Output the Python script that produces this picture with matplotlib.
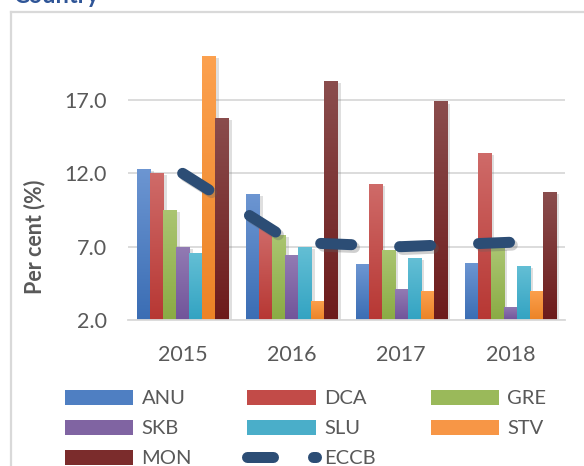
import matplotlib
matplotlib.use("Agg")
import matplotlib.pyplot as plt
import numpy as np
from matplotlib.colors import LinearSegmentedColormap
from matplotlib.lines import Line2D
from matplotlib.patches import Patch
import matplotlib.patheffects as pe

plt.rcParams['font.family'] = ['Lato', 'DejaVu Sans']

years = ['2015', '2016', '2017', '2018']
series_names = ['ANU', 'DCA', 'GRE', 'SKB', 'SLU', 'STV', 'MON']
ANU = [12.3, 10.6, 5.8, 5.9]
DCA = [12.0, 8.3, 11.3, 13.4]
GRE = [9.5, 7.8, 6.8, 6.9]
SKB = [7.0, 6.4, 4.1, 2.9]
SLU = [6.6, 7.0, 6.2, 5.7]
STV = [20.0, 3.3, 4.0, 4.0]
MON = [15.8, 18.3, 16.9, 10.7]
ECCB = [12.0, 7.3, 7.0, 7.3]
yticks = [2.0, 7.0, 12.0, 17.0]

series_values = [ANU, DCA, GRE, SKB, SLU, STV, MON]
top_colors = ['#6d96d2', '#cf6b69', '#aac571', '#927bb3', '#64bfd5', '#fca14f', '#8a4d4d']
bot_colors = ['#3a6db4', '#b73733', '#8aab44', '#71549a', '#32a3c2', '#ec8326', '#6d1b1b']
mid_colors = ['#4f7fc2', '#c24b48', '#9ab95a', '#8064a2', '#4aaec9', '#f79646', '#7b2c2c']
eccb_color = '#2c4d75'

W, H = 584, 466
fig = plt.figure(figsize=(W / 100, H / 100), dpi=100)
ax = fig.add_axes([128 / W, 1 - 320 / H, (565 - 128) / W, (320 - 56) / H])

ymin, ymax = 2.0, 20.0
x = np.arange(len(years))
bw = 0.119
grad = np.linspace(0, 1, 256).reshape(-1, 1)

for i, (vals, tc, bc) in enumerate(zip(series_values, top_colors, bot_colors)):
    cmap = LinearSegmentedColormap.from_list('g%d' % i, [bc, tc])
    pos = x + (i - 3) * bw
    bars = ax.bar(pos, np.array(vals) - ymin, bottom=ymin, width=bw, color=bc,
                  zorder=2, linewidth=0)
    for b, v in zip(bars, vals):
        b.set_path_effects([pe.SimplePatchShadow(offset=(2.5, -1.5), shadow_rgbFace='#808080', alpha=0.25),
                            pe.Normal()])
        x0 = b.get_x()
        im = ax.imshow(grad, cmap=cmap, origin='lower', aspect='auto',
                       extent=(x0, x0 + bw, ymin, v), zorder=2.5,
                       interpolation='bilinear')
        im.set_clip_path(b)

lw_px = 11
lw_pt = lw_px * 72 / 100
ax.plot(x, ECCB, color=eccb_color, lw=lw_pt, ls=(0, (31 / lw_px, 48 / lw_px)),
        dash_capstyle='round', solid_capstyle='round', zorder=4,
        path_effects=[pe.SimpleLineShadow(offset=(2, -2), shadow_color='#606060', alpha=0.3),
                      pe.Normal()])

ax.set_xlim(-0.5, 3.5)
ax.set_ylim(ymin, ymax)
ax.set_yticks(yticks)
ax.set_yticklabels(['%.1f' % t for t in yticks])
ax.set_xticks(x)
ax.set_xticklabels(years)
ax.tick_params(axis='both', length=0, labelsize=15.5, labelcolor='#595959')
ax.tick_params(axis='y', pad=15)
ax.tick_params(axis='x', pad=18)
ax.grid(axis='y', color='#d9d9d9', lw=1.3, zorder=0)
ax.set_axisbelow(True)
for s in ['top', 'right', 'left']:
    ax.spines[s].set_visible(False)
ax.spines['bottom'].set_color('#d9d9d9')
ax.spines['bottom'].set_linewidth(1.3)

fig.text(35 / W, 1 - 237 / H, 'Per cent (%)', rotation=90, ha='center', va='center',
         fontsize=15.5, fontweight='bold', color='#595959')
fig.text(13 / W, 1 - 3 / H, 'Country', ha='left', va='baseline', fontsize=17,
         fontweight='bold', color='#2f5597')

# frame lines (top and left)
fig.add_artist(Line2D([10.5 / W, 1], [1 - 11.5 / H, 1 - 11.5 / H], color='#d9d9d9', lw=1.6,
                      transform=fig.transFigure))
fig.add_artist(Line2D([10.5 / W, 10.5 / W], [0, 1 - 11.5 / H], color='#d9d9d9', lw=1.6,
                      transform=fig.transFigure))

patches = [Patch(facecolor=c, edgecolor='none') for c in mid_colors]
eccb_h = Line2D([], [], color=eccb_color, lw=lw_pt, ls=(0, (26 / lw_px, 40 / lw_px)),
                dash_capstyle='round')
handles = dict(zip(series_names, patches))
handles['ECCB'] = eccb_h
order = ['ANU', 'SKB', 'MON', 'DCA', 'SLU', 'ECCB', 'GRE', 'STV']
fig.legend([handles[k] for k in order], order, loc='upper left',
           bbox_to_anchor=(65 / W, 1 - 390 / H), ncol=3, frameon=False,
           fontsize=14.5, labelcolor='#595959', handlelength=3.4, handleheight=0.75,
           handletextpad=0.4, columnspacing=2.75, labelspacing=0.62, borderpad=0,
           borderaxespad=0)

fig.savefig('out.png', dpi=100)
